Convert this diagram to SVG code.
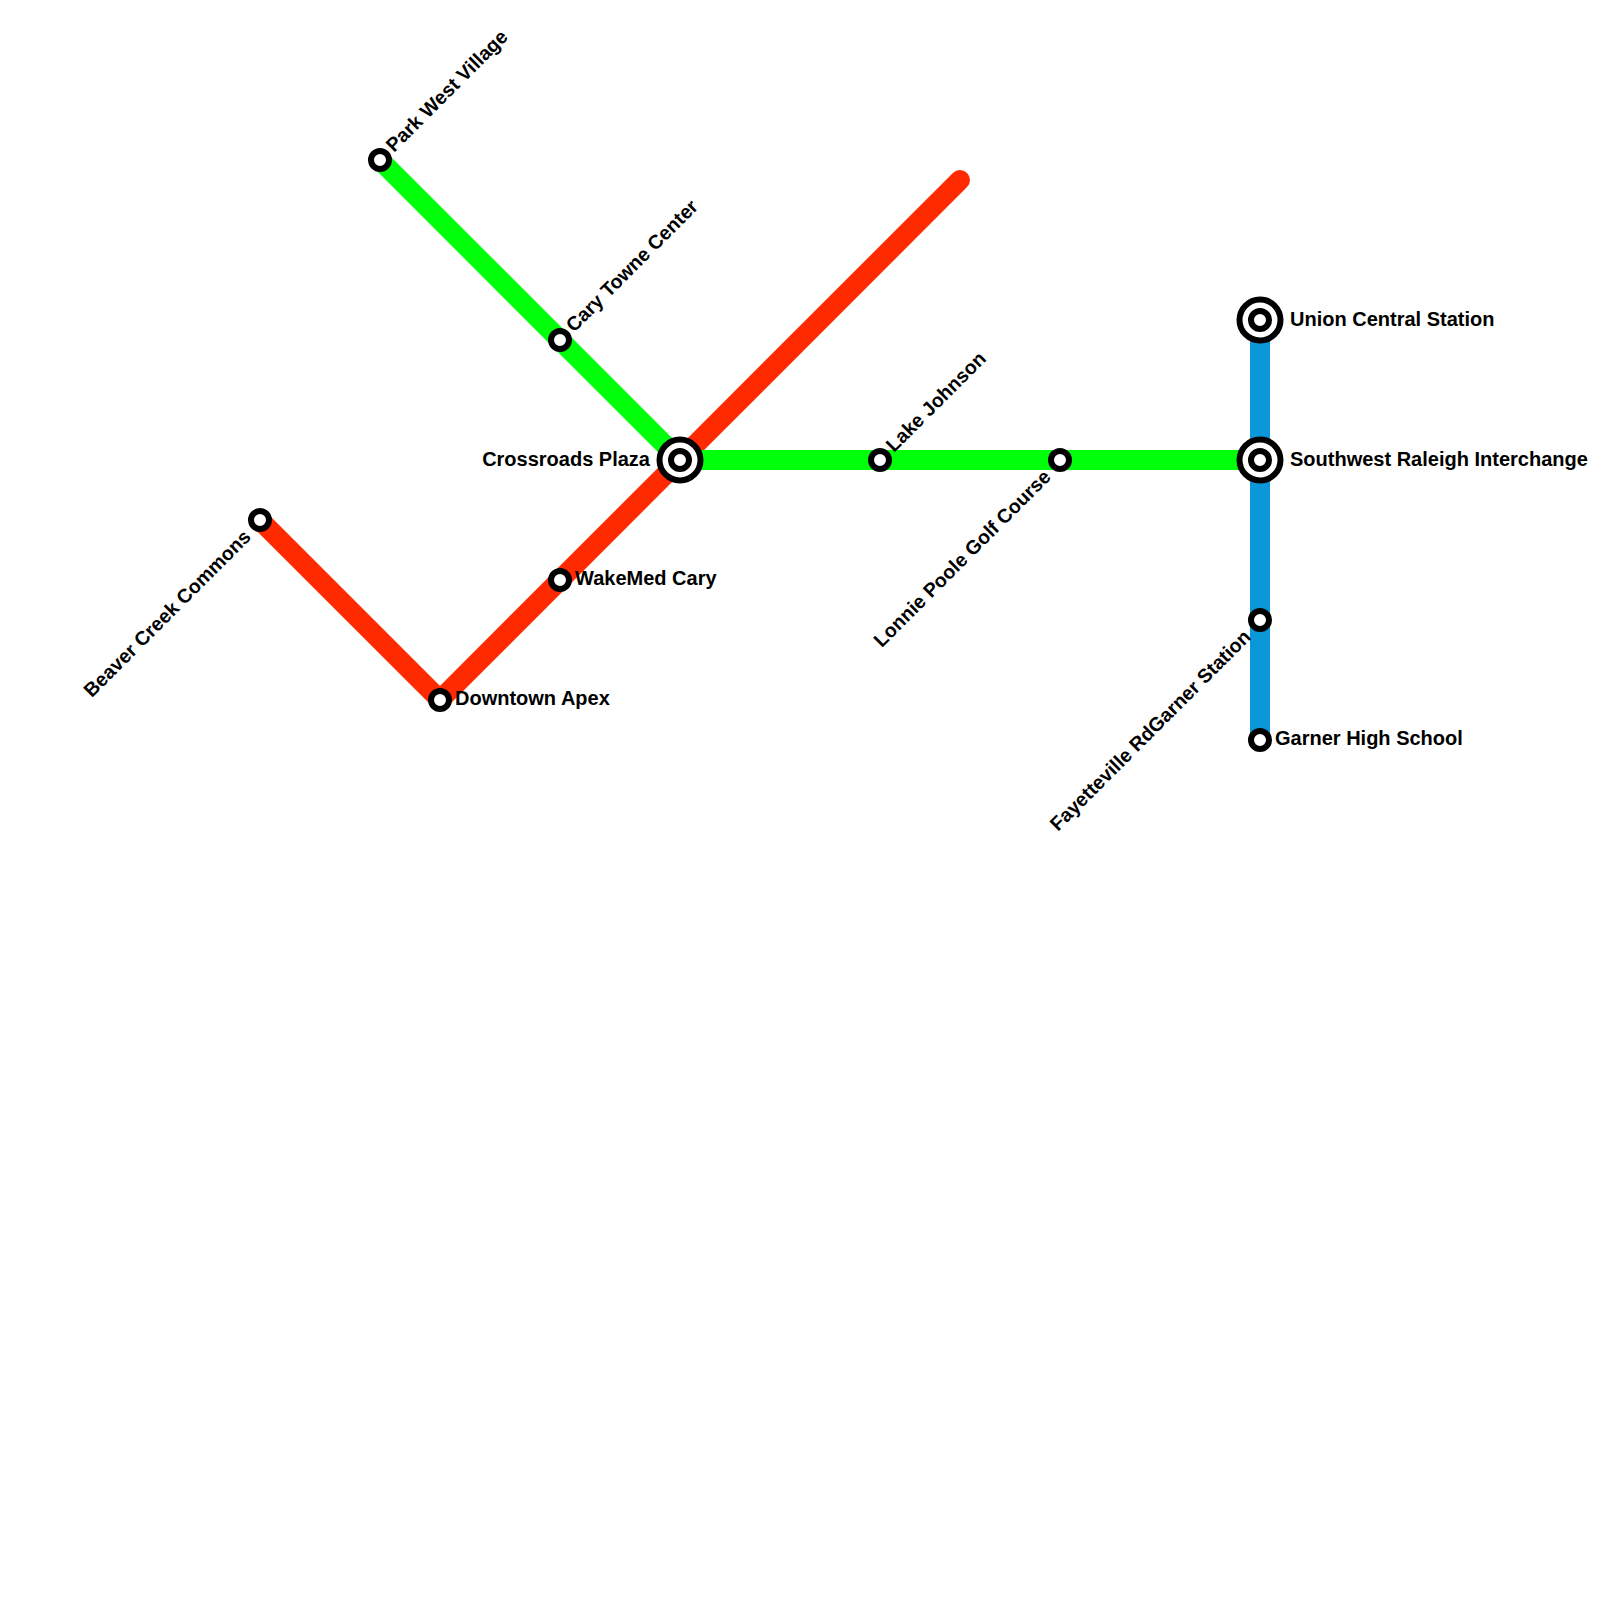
<svg xmlns="http://www.w3.org/2000/svg" width="1600" height="1600" viewBox="0 0 1600 1600">
<style>
.line{fill:none;stroke-width:20;stroke-linecap:round;stroke-linejoin:round}
.st{fill:#fff;stroke:#000;stroke-width:6}
text{font-family:"Liberation Sans",Arial,sans-serif;font-weight:bold;font-size:20px;fill:#000}
.e{text-anchor:end}
.r{font-size:19.6px}
</style>
<rect width="1600" height="1600" fill="#fff"/>
<g id="connectors">
<path class="line" stroke="#0b97d8" style="stroke-linecap:butt" d="M1260 320V740"/>
<path class="line" stroke="#ff2a00" d="M260 520L440 700L680 460L960 180"/>
<path class="line" stroke="#00ff0a" d="M380 160L680 460H1260"/>
</g>
<g id="park-west"><circle class="st" cx="380" cy="160" r="9"/><text class="r" transform="translate(394 153) rotate(-45)">Park West Village</text></g>
<g id="cary-towne"><circle class="st" cx="560" cy="340" r="9"/><text class="r" transform="translate(574 333) rotate(-45)">Cary Towne Center</text></g>
<g id="crossroads"><circle class="st" cx="680" cy="460" r="20.5"/><circle class="st" cx="680" cy="460" r="9"/><text class="e" x="650" y="466">Crossroads Plaza</text></g>
<g id="lake-johnson"><circle class="st" cx="880" cy="460" r="9"/><text class="r" transform="translate(894 453) rotate(-45)">Lake Johnson</text></g>
<g id="lonnie-poole"><circle class="st" cx="1060" cy="460" r="9"/><text class="e r" transform="translate(1052 478) rotate(-45)">Lonnie Poole Golf Course</text></g>
<g id="southwest"><circle class="st" cx="1260" cy="460" r="20.5"/><circle class="st" cx="1260" cy="460" r="9"/><text x="1290" y="466">Southwest Raleigh Interchange</text></g>
<g id="union"><circle class="st" cx="1260" cy="320" r="20.5"/><circle class="st" cx="1260" cy="320" r="9"/><text x="1290" y="325.500">Union Central Station</text></g>
<g id="fayetteville"><circle class="st" cx="1260" cy="620" r="9"/><text class="e r" transform="translate(1252 638) rotate(-45)">Fayetteville RdGarner Station</text></g>
<g id="garner"><circle class="st" cx="1260" cy="740" r="9"/><text x="1275" y="745">Garner High School</text></g>
<g id="beaver"><circle class="st" cx="260" cy="520" r="9"/><text class="e r" transform="translate(252 538) rotate(-45)">Beaver Creek Commons</text></g>
<g id="apex"><circle class="st" cx="440" cy="700" r="9"/><text x="455" y="705">Downtown Apex</text></g>
<g id="wakemed"><circle class="st" cx="560" cy="580" r="9"/><text x="575" y="585">WakeMed Cary</text></g>
</svg>
